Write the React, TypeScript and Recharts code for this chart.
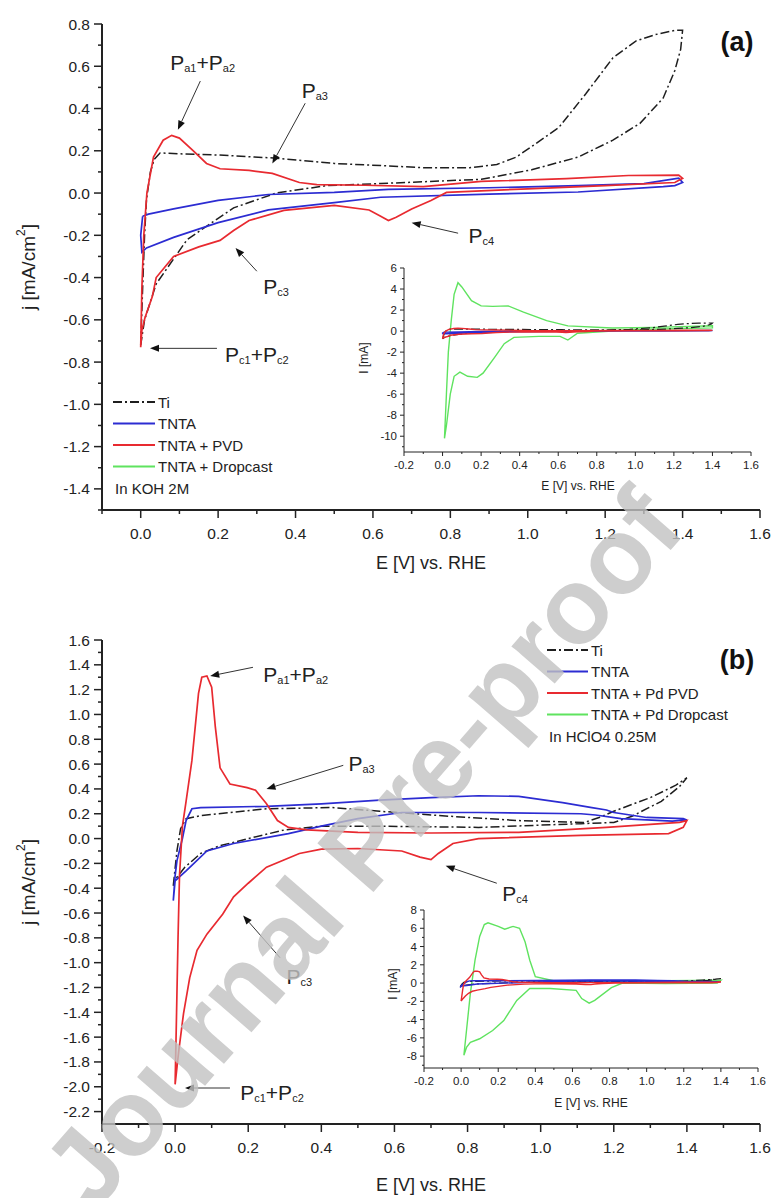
import React from "react";
import { LineChart, Line, XAxis, YAxis, ReferenceLine, ReferenceDot } from "recharts";

// CV loops, points listed in scan order: [E (V vs RHE), j (mA/cm2) or I (mA)]
// panel (a), KOH 2M
const A_TI = [
  [0.0, -0.72], [0.005, -0.45], [0.01, -0.2], [0.015, -0.03], [0.025, 0.1], [0.035, 0.16],
  [0.05, 0.19], [0.11, 0.185], [0.2, 0.18], [0.35, 0.165], [0.5, 0.14], [0.62, 0.13],
  [0.73, 0.12], [0.85, 0.12], [0.92, 0.135], [0.97, 0.17], [1.01, 0.22], [1.08, 0.31],
  [1.15, 0.47], [1.22, 0.64], [1.28, 0.72], [1.33, 0.75], [1.38, 0.77], [1.4, 0.77],
  [1.395, 0.68], [1.38, 0.58], [1.35, 0.45], [1.29, 0.33], [1.22, 0.25], [1.13, 0.17],
  [1.01, 0.11], [0.88, 0.065], [0.62, 0.045], [0.48, 0.035], [0.35, 0.0], [0.24, -0.07],
  [0.12, -0.22], [0.04, -0.43], [0.01, -0.6], [0.0, -0.72],
];
const A_TNTA = [
  [0.005, -0.11], [0.02, -0.1], [0.085, -0.075], [0.2, -0.035], [0.33, -0.007], [0.5, 0.003],
  [0.64, 0.017], [0.9, 0.025], [1.13, 0.035], [1.3, 0.045], [1.39, 0.07], [1.4, 0.05],
  [1.38, 0.035], [1.35, 0.03], [1.13, 0.005], [0.9, -0.005], [0.62, -0.02], [0.5, -0.045],
  [0.33, -0.08], [0.2, -0.14], [0.085, -0.21], [0.015, -0.26], [0.003, -0.28], [0.0, -0.2],
  [0.005, -0.11],
];
const A_PVD = [
  [0.0, -0.73], [0.003, -0.45], [0.008, -0.2], [0.016, 0.0], [0.033, 0.17], [0.058, 0.25],
  [0.08, 0.273], [0.1, 0.26], [0.136, 0.2], [0.17, 0.14], [0.205, 0.115], [0.28, 0.107],
  [0.34, 0.093], [0.41, 0.05], [0.455, 0.04], [0.58, 0.037], [0.73, 0.03], [0.88, 0.055],
  [1.1, 0.068], [1.26, 0.083], [1.39, 0.085], [1.4, 0.07], [1.38, 0.05], [1.2, 0.035],
  [1.0, 0.02], [0.79, 0.003], [0.75, -0.035], [0.7, -0.075], [0.66, -0.115], [0.64, -0.13],
  [0.62, -0.11], [0.59, -0.08], [0.5, -0.058], [0.37, -0.082], [0.28, -0.13], [0.24, -0.177],
  [0.205, -0.224], [0.15, -0.255], [0.085, -0.3], [0.04, -0.4], [0.03, -0.49], [0.011, -0.59],
  [0.003, -0.65], [0.0, -0.73],
];
const A_DROP = [
  [0.01, -10.2], [0.02, -6], [0.03, -2], [0.045, 1], [0.06, 3.5], [0.08, 4.6], [0.1, 4.2],
  [0.15, 2.9], [0.2, 2.4], [0.26, 2.35], [0.34, 2.4], [0.42, 1.8], [0.54, 1.0], [0.65, 0.5],
  [0.88, 0.3], [1.1, 0.35], [1.4, 0.5], [1.4, 0.3], [1.0, 0.15], [0.7, -0.2], [0.65, -0.85],
  [0.61, -0.5], [0.5, -0.5], [0.37, -0.6], [0.32, -1.2], [0.27, -2.5], [0.21, -4.0],
  [0.18, -4.4], [0.13, -4.3], [0.09, -3.9], [0.06, -4.3], [0.04, -6], [0.02, -9], [0.01, -10.2],
];

// panel (b), HClO4 0.25M
const B_TI = [
  [-0.005, -0.38], [0.005, -0.1], [0.015, 0.08], [0.03, 0.16], [0.07, 0.185], [0.25, 0.24],
  [0.43, 0.25], [0.56, 0.22], [0.75, 0.18], [0.94, 0.145], [1.12, 0.13], [1.16, 0.17],
  [1.2, 0.22], [1.3, 0.33], [1.37, 0.43], [1.4, 0.49], [1.38, 0.42], [1.33, 0.3], [1.25, 0.18],
  [1.2, 0.13], [1.11, 0.12], [0.83, 0.09], [0.56, 0.1], [0.4, 0.1], [0.3, 0.07], [0.2, 0.0],
  [0.12, -0.06], [0.07, -0.12], [0.027, -0.23], [0.0, -0.33], [-0.005, -0.38],
];
const B_TNTA = [
  [-0.005, -0.5], [0.0, -0.3], [0.005, -0.18], [0.02, 0.0], [0.03, 0.145], [0.046, 0.24],
  [0.07, 0.25], [0.25, 0.26], [0.4, 0.28], [0.56, 0.31], [0.7, 0.33], [0.83, 0.345],
  [0.94, 0.34], [1.06, 0.29], [1.14, 0.25], [1.18, 0.23], [1.2, 0.21], [1.29, 0.17],
  [1.39, 0.16], [1.4, 0.15], [1.36, 0.14], [1.22, 0.16], [1.15, 0.19], [1.11, 0.2],
  [0.83, 0.21], [0.62, 0.21], [0.5, 0.16], [0.4, 0.1], [0.31, 0.04], [0.16, -0.04],
  [0.087, -0.1], [0.03, -0.26], [0.0, -0.34], [-0.005, -0.5],
];
const B_PVD = [
  [0.0, -1.98], [0.004, -1.4], [0.008, -0.8], [0.012, -0.3], [0.02, 0.1], [0.03, 0.3],
  [0.046, 0.63], [0.064, 1.17], [0.073, 1.3], [0.087, 1.31], [0.1, 1.22], [0.11, 0.9],
  [0.123, 0.57], [0.15, 0.44], [0.197, 0.41], [0.22, 0.39], [0.25, 0.28], [0.28, 0.145],
  [0.31, 0.09], [0.36, 0.07], [0.5, 0.05], [0.7, 0.045], [0.94, 0.05], [1.18, 0.09],
  [1.38, 0.13], [1.4, 0.145], [1.39, 0.09], [1.35, 0.04], [1.11, 0.025], [0.83, 0.0],
  [0.76, -0.04], [0.72, -0.12], [0.7, -0.17], [0.67, -0.15], [0.62, -0.1], [0.5, -0.08],
  [0.4, -0.085], [0.34, -0.12], [0.25, -0.23], [0.2, -0.36], [0.16, -0.47], [0.13, -0.61],
  [0.087, -0.77], [0.06, -0.9], [0.04, -1.12], [0.023, -1.41], [0.01, -1.71], [0.0, -1.98],
];
const B_DROP = [
  [0.015, -7.9], [0.03, -5], [0.05, -1.1], [0.075, 2.5], [0.1, 5.1], [0.125, 6.4],
  [0.145, 6.6], [0.2, 6.2], [0.235, 5.9], [0.28, 6.2], [0.315, 6.0], [0.345, 4.5],
  [0.37, 2.5], [0.4, 0.7], [0.51, 0.2], [0.8, 0.2], [1.1, 0.25], [1.4, 0.3], [1.38, 0.0],
  [1.1, -0.05], [0.87, 0.0], [0.81, -0.5], [0.72, -1.9], [0.69, -2.2], [0.65, -1.7],
  [0.62, -0.8], [0.48, -0.6], [0.37, -0.6], [0.3, -1.9], [0.23, -4.1], [0.17, -5.2],
  [0.1, -6.1], [0.05, -6.5], [0.03, -7.0], [0.015, -7.9],
];

const A_X_TICKS = [-0.1, 0, 0.1, 0.2, 0.3, 0.4, 0.5, 0.6, 0.7, 0.8, 0.9, 1.0, 1.1, 1.2, 1.3, 1.4, 1.5, 1.6];
const A_Y_TICKS = [0.8, 0.7, 0.6, 0.5, 0.4, 0.3, 0.2, 0.1, 0, -0.1, -0.2, -0.3, -0.4, -0.5, -0.6, -0.7, -0.8, -0.9, -1.0, -1.1, -1.2, -1.3, -1.4, -1.5];
const B_X_TICKS = [-0.2, -0.1, 0, 0.1, 0.2, 0.3, 0.4, 0.5, 0.6, 0.7, 0.8, 0.9, 1.0, 1.1, 1.2, 1.3, 1.4, 1.5, 1.6];
const B_Y_TICKS = [1.6, 1.5, 1.4, 1.3, 1.2, 1.1, 1.0, 0.9, 0.8, 0.7, 0.6, 0.5, 0.4, 0.3, 0.2, 0.1, 0, -0.1, -0.2, -0.3, -0.4, -0.5, -0.6, -0.7, -0.8, -0.9, -1.0, -1.1, -1.2, -1.3, -1.4, -1.5, -1.6, -1.7, -1.8, -1.9, -2.0, -2.1, -2.2];
const IN_X_TICKS = [-0.2, -0.1, 0, 0.1, 0.2, 0.3, 0.4, 0.5, 0.6, 0.7, 0.8, 0.9, 1.0, 1.1, 1.2, 1.3, 1.4, 1.5, 1.6];
const IN_A_Y_TICKS = [6, 5, 4, 3, 2, 1, 0, -1, -2, -3, -4, -5, -6, -7, -8, -9, -10, -11];
const IN_B_Y_TICKS = [8, 7, 6, 5, 4, 3, 2, 1, 0, -1, -2, -3, -4, -5, -6, -7, -8, -9];

const A_LABELS = ["Ti", "TNTA", "TNTA + PVD", "TNTA + Dropcast"];
const B_LABELS = ["Ti", "TNTA", "TNTA + Pd PVD", "TNTA + Pd Dropcast"];

const FONT = "'Liberation Sans', Arial, Helvetica, sans-serif";
const INK = "#222";
const COLORS = ["#1e1e1e", "#2c2cd2", "#e82a30", "#5fe35f"];
const DASH = "9 3 2 3";

type Pt = { E: number; j: number };
const toPts = (a: number[][]): Pt[] => a.map(([E, j]) => ({ E, j }));

function isMajor(v: number, step: number) {
  return Math.abs(v / step - Math.round(v / step)) < 1e-6;
}

function makeYTick(step: number, digits: number, fs: number, major: number, minor: number, gap: number, sw: number) {
  return (p: any) => {
    const v = p.payload.value;
    const big = isMajor(v, step);
    return (
      <g>
        <line x1={p.x} y1={p.y} x2={p.x - (big ? major : minor)} y2={p.y} stroke={INK} strokeWidth={sw} />
        {big && (
          <text x={p.x - major - gap} y={p.y} textAnchor="end" dominantBaseline="central" fontSize={fs} fill={INK} fontFamily={FONT}>
            {v.toFixed(digits)}
          </text>
        )}
      </g>
    );
  };
}

function makeXTick(step: number, digits: number, fs: number, major: number, minor: number, gap: number, sw: number) {
  return (p: any) => {
    const v = p.payload.value;
    const big = isMajor(v, step);
    return (
      <g>
        <line x1={p.x} y1={p.y} x2={p.x} y2={p.y + (big ? major : minor)} stroke={INK} strokeWidth={sw} />
        {big && (
          <text x={p.x} y={p.y + major + gap} textAnchor="middle" dominantBaseline="central" fontSize={fs} fill={INK} fontFamily={FONT}>
            {v.toFixed(digits)}
          </text>
        )}
      </g>
    );
  };
}

const Arrow = (p: any) => {
  const { x1, y1, x2, y2 } = p;
  const a = Math.atan2(y2 - y1, x2 - x1);
  const L = 9, W = 3.5;
  const bx = x2 - L * Math.cos(a), by = y2 - L * Math.sin(a);
  const px = -Math.sin(a) * W, py = Math.cos(a) * W;
  return (
    <g>
      <line x1={x1} y1={y1} x2={bx} y2={by} stroke="#333" strokeWidth={1} />
      <polygon points={`${x2},${y2} ${bx + px},${by + py} ${bx - px},${by - py}`} fill="#111" />
    </g>
  );
};

type Note = { parts: [string, string][]; at: [number, number]; from: [number, number]; to: [number, number] };

const A_NOTES: Note[] = [
  { parts: [["P", "a1"], ["+P", "a2"]], at: [0.16, 0.62], from: [0.154, 0.53], to: [0.096, 0.3] },
  { parts: [["P", "a3"]], at: [0.45, 0.49], from: [0.425, 0.425], to: [0.34, 0.14] },
  { parts: [["P", "c3"]], at: [0.35, -0.44], from: [0.3, -0.37], to: [0.245, -0.26] },
  { parts: [["P", "c4"]], at: [0.88, -0.2], from: [0.82, -0.19], to: [0.7, -0.14] },
  { parts: [["P", "c1"], ["+P", "c2"]], at: [0.3, -0.76], from: [0.197, -0.735], to: [0.024, -0.735] },
];
const B_NOTES: Note[] = [
  { parts: [["P", "a1"], ["+P", "a2"]], at: [0.33, 1.33], from: [0.213, 1.38], to: [0.096, 1.31] },
  { parts: [["P", "a3"]], at: [0.51, 0.61], from: [0.46, 0.59], to: [0.25, 0.4] },
  { parts: [["P", "c4"]], at: [0.93, -0.44], from: [0.88, -0.36], to: [0.74, -0.22] },
  { parts: [["P", "c3"]], at: [0.34, -1.11], from: [0.287, -0.96], to: [0.186, -0.62] },
  { parts: [["P", "c1"], ["+P", "c2"]], at: [0.265, -2.04], from: [0.15, -2.01], to: [0.027, -2.01] },
];

function noteShape(parts: [string, string][]) {
  return (p: any) => (
    <text x={p.cx} y={p.cy} textAnchor="middle" dominantBaseline="central" fontFamily={FONT} fill={INK} fontSize={21}>
      {parts.map(([b, s], i) => (
        <React.Fragment key={i}>
          <tspan fontSize={21} dy={i === 0 ? 0 : -6}>{b}</tspan>
          <tspan fontSize={11} dy={6}>{s}</tspan>
        </React.Fragment>
      ))}
    </text>
  );
}

type CVProps = {
  width: number; height: number; margin: any; yWidth: number; xHeight: number;
  xDomain: [number, number]; yDomain: [number, number];
  xTicks: number[]; yTicks: number[]; xTick: any; yTick: any; axisW: number;
  series: number[][][]; lineW: number; order: number[]; notes?: Note[];
};

function CV(p: CVProps) {
  return (
    <LineChart width={p.width} height={p.height} margin={p.margin}>
      <XAxis type="number" dataKey="E" domain={p.xDomain} allowDataOverflow ticks={p.xTicks} interval={0}
        tick={p.xTick} tickLine={false} tickSize={0} tickMargin={0} height={p.xHeight}
        axisLine={{ stroke: INK, strokeWidth: p.axisW }} />
      <YAxis type="number" domain={p.yDomain} allowDataOverflow ticks={p.yTicks} interval={0}
        tick={p.yTick} tickLine={false} tickSize={0} tickMargin={0} width={p.yWidth}
        axisLine={{ stroke: INK, strokeWidth: p.axisW }} />
      {p.order.map((i) => (
        <Line key={i} data={toPts(p.series[i])} dataKey="j" type="linear" stroke={COLORS[i]}
          strokeWidth={i === 0 ? p.lineW - 0.2 : p.lineW} strokeDasharray={i === 0 ? DASH : undefined}
          dot={false} activeDot={false} isAnimationActive={false} />
      ))}
      {(p.notes || []).map((n, i) => (
        <ReferenceLine key={"l" + i} segment={[{ x: n.from[0], y: n.from[1] }, { x: n.to[0], y: n.to[1] }]}
          ifOverflow="visible" shape={Arrow} />
      ))}
      {(p.notes || []).map((n, i) => (
        <ReferenceDot key={"t" + i} x={n.at[0]} y={n.at[1]} ifOverflow="visible" shape={noteShape(n.parts)} />
      ))}
    </LineChart>
  );
}

function LegendBlock({ x, y, labels, note, len }: { x: number; y: number; labels: string[]; note: string; len: number }) {
  return (
    <g fontFamily={FONT} fontSize={15} fill={INK}>
      {labels.map((l, i) => (
        <g key={l}>
          <line x1={x} x2={x + len} y1={y + i * 21.5} y2={y + i * 21.5} stroke={COLORS[i]} strokeWidth={2}
            strokeDasharray={i === 0 ? DASH : undefined} />
          <text x={x + len + 3} y={y + i * 21.5} dominantBaseline="central">{l}</text>
        </g>
      ))}
      <text x={x + 2} y={y + 4 * 21.5} dominantBaseline="central">{note}</text>
    </g>
  );
}

function Overlay() {
  const yTitle = (cx: number, cy: number) => (
    <text transform={`translate(${cx},${cy}) rotate(-90)`} textAnchor="middle" dominantBaseline="central" fontSize={19} fontFamily={FONT} fill={INK}>
      j [mA/cm<tspan fontSize={12} dy={-7}>2</tspan><tspan dy={7}>]</tspan>
    </text>
  );
  const inTitle = (cx: number, cy: number) => (
    <text transform={`translate(${cx},${cy}) rotate(-90)`} textAnchor="middle" dominantBaseline="central" fontSize={12} fontFamily={FONT} fill={INK}>
      I [mA]
    </text>
  );
  return (
    <svg width={778} height={1198} style={{ position: "absolute", left: 0, top: 0, pointerEvents: "none" }}>
      {yTitle(28, 267)}
      {yTitle(28, 882)}
      <text x={431} y={563} textAnchor="middle" dominantBaseline="central" fontSize={18} fontFamily={FONT} fill={INK}>E [V] vs. RHE</text>
      <text x={431} y={1185} textAnchor="middle" dominantBaseline="central" fontSize={18} fontFamily={FONT} fill={INK}>E [V] vs. RHE</text>
      {inTitle(364, 358)}
      {inTitle(393, 984)}
      <text x={578} y={486} textAnchor="middle" dominantBaseline="central" fontSize={12} fontFamily={FONT} fill={INK}>E [V] vs. RHE</text>
      <text x={591} y={1103} textAnchor="middle" dominantBaseline="central" fontSize={12} fontFamily={FONT} fill={INK}>E [V] vs. RHE</text>
      <text x={737} y={42} textAnchor="middle" dominantBaseline="central" fontSize={27} fontWeight={700} fontFamily={FONT} fill="#111">(a)</text>
      <text x={737} y={660} textAnchor="middle" dominantBaseline="central" fontSize={27} fontWeight={700} fontFamily={FONT} fill="#111">(b)</text>
      <LegendBlock x={113} y={402} labels={A_LABELS} note="In KOH 2M" len={42} />
      <LegendBlock x={547} y={650} labels={B_LABELS} note="In HClO4 0.25M" len={41} />
      <text x={0} y={0} transform="translate(362,848) rotate(-49)" textAnchor="middle" dominantBaseline="central"
        fontSize={108} fontWeight={700} fontFamily={FONT} fill="#c2c2c2" opacity={0.8}>Journal Pre-proof</text>
    </svg>
  );
}

export default function App() {
  const mainX = makeXTick(0.2, 1, 15.5, 8, 4, 15, 1.5);
  const mainY = makeYTick(0.2, 1, 15.5, 8, 4, 4, 1.5);
  const inX = makeXTick(0.2, 1, 11.5, 4, 2, 9, 1);
  const inY = makeYTick(2, 0, 11.5, 4, 2, 3, 1);
  return (
    <div style={{ position: "absolute", left: 0, top: 0, width: 778, height: 1198, background: "#fff", overflow: "hidden", fontFamily: FONT }}>
      <div style={{ position: "absolute", left: 0, top: 0 }}>
        <CV width={778} height={580} margin={{ top: 24, right: 18, left: 0, bottom: 0 }} yWidth={102} xHeight={70}
          xDomain={[-0.1, 1.6]} yDomain={[-1.5, 0.8]} xTicks={A_X_TICKS} yTicks={A_Y_TICKS}
          xTick={mainX} yTick={mainY} axisW={2} series={[A_TI, A_TNTA, A_PVD]} lineW={1.7} order={[0, 1, 2]} notes={A_NOTES} />
      </div>
      <div style={{ position: "absolute", left: 340, top: 258 }}>
        <CV width={430} height={240} margin={{ top: 10, right: 19, left: 0, bottom: 0 }} yWidth={64} xHeight={46}
          xDomain={[-0.2, 1.6]} yDomain={[-11.5, 6]} xTicks={IN_X_TICKS} yTicks={IN_A_Y_TICKS}
          xTick={inX} yTick={inY} axisW={1} series={[A_TI, A_TNTA, A_PVD, A_DROP]} lineW={1.4} order={[3, 0, 1, 2]} />
      </div>
      <div style={{ position: "absolute", left: 0, top: 600 }}>
        <CV width={778} height={598} margin={{ top: 40, right: 18, left: 0, bottom: 0 }} yWidth={102} xHeight={74}
          xDomain={[-0.2, 1.6]} yDomain={[-2.3, 1.6]} xTicks={B_X_TICKS} yTicks={B_Y_TICKS}
          xTick={mainX} yTick={mainY} axisW={2} series={[B_TI, B_TNTA, B_PVD]} lineW={1.7} order={[0, 1, 2]} notes={B_NOTES} />
      </div>
      <div style={{ position: "absolute", left: 360, top: 900 }}>
        <CV width={420} height={215} margin={{ top: 10, right: 22, left: 0, bottom: 0 }} yWidth={64} xHeight={47}
          xDomain={[-0.2, 1.6]} yDomain={[-9.3, 8]} xTicks={IN_X_TICKS} yTicks={IN_B_Y_TICKS}
          xTick={inX} yTick={inY} axisW={1} series={[B_TI, B_TNTA, B_PVD, B_DROP]} lineW={1.4} order={[3, 0, 1, 2]} />
      </div>
      <Overlay />
    </div>
  );
}
